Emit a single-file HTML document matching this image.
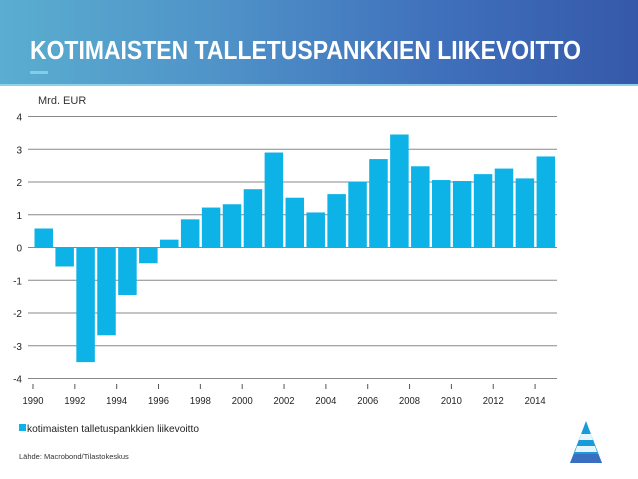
<!DOCTYPE html>
<html><head><meta charset="utf-8"><style>
body{margin:0;width:638px;height:479px;background:#fff;overflow:hidden;font-family:"Liberation Sans",sans-serif;position:relative}
#hdr{position:absolute;left:0;top:0;width:638px;height:85px;background:linear-gradient(90deg,#5aaed0 0%,#4f92c8 35%,#3f6fbb 70%,#3559a8 100%)}
#hdr .sep{position:absolute;left:0;top:84px;width:638px;height:2px;background:#8fd0ea}
#title{position:absolute;left:30px;top:35px;color:#fff;font-weight:bold;font-size:26px;white-space:nowrap;transform:scaleX(0.883);transform-origin:left}
#dash{position:absolute;left:30px;top:71px;width:18px;height:3px;background:#7fd0e6}
svg{position:absolute;left:0;top:0}
</style></head><body>
<div id="hdr"><div class="sep"></div></div>
<div id="title">KOTIMAISTEN TALLETUSPANKKIEN LIIKEVOITTO</div>
<div id="dash"></div>
<svg id="chart" width="638" height="479"></svg>
<script>
const years=[1990,1991,1992,1993,1994,1995,1996,1997,1998,1999,2000,2001,2002,2003,2004,2005,2006,2007,2008,2009,2010,2011,2012,2013,2014];
const values=[0.58,-0.58,-3.5,-2.68,-1.45,-0.48,0.24,0.86,1.22,1.32,1.78,2.9,1.52,1.07,1.63,2.0,2.7,3.45,2.48,2.06,2.03,2.24,2.41,2.11,2.78];
const yTicks=[4,3,2,1,0,-1,-2,-3,-4];
const xTicks=[1990,1992,1994,1996,1998,2000,2002,2004,2006,2008,2010,2012,2014];
const NS="http://www.w3.org/2000/svg";
const svg=document.getElementById('chart');
const y=v=>247.5-v*32.75;
const x=yr=>33+(yr-1990)*20.92;
function mk(t,a){const e=document.createElementNS(NS,t);for(const k in a)e.setAttribute(k,a[k]);svg.appendChild(e);return e;}
yTicks.forEach(v=>{
  const l=mk('line',{x1:28,x2:557,y1:y(v),y2:y(v),stroke:'#888','stroke-width':1});
  
  
  const t=mk('text',{x:22,y:y(v)+4,'text-anchor':'end','font-size':10,fill:'#222'});
  t.textContent=v;
  
  
});
years.forEach((yr,i)=>{
  const v=values[i];
  const r=mk('rect',{x:x(yr)+1.5,width:18.5,y:Math.min(y(v),y(0)),height:Math.abs(y(v)-y(0)),fill:'#0db2e6'});
  
  
});
xTicks.forEach(yr=>{
  const l=mk('line',{x1:x(yr),x2:x(yr),y1:384,y2:389,stroke:'#555','stroke-width':1});
  
  
  const t=mk('text',{x:x(yr),y:404,'text-anchor':'middle','font-size':10.5,fill:'#222',textLength:21,lengthAdjust:'spacingAndGlyphs'});
  t.textContent=yr;
  
  
});
const u=mk('text',{x:38,y:104,'font-size':11,fill:'#333'});u.textContent='Mrd. EUR';


const lg=mk('rect',{x:19,y:424,width:7,height:7,fill:'#0db2e6'});


const lt=mk('text',{x:27,y:432,'font-size':10.5,fill:'#222',textLength:172,lengthAdjust:'spacingAndGlyphs'});lt.textContent='kotimaisten talletuspankkien liikevoitto';


const src=mk('text',{x:19,y:459,'font-size':7.5,fill:'#333'});src.textContent='Lähde: Macrobond/Tilastokeskus';


const lg1=mk('polygon',{points:'586,421 570,463 602,463',fill:'#1a9ad8'});


mk('polygon',{points:'581,434 591,434 593,440 579,440',fill:'#e6f4fb'});
mk('polygon',{points:'577,446 595,446 597,452 575,452',fill:'#e6f4fb'});
mk('polygon',{points:'574,454 598,454 602,463 570,463',fill:'#3a6fc0'});
</script>
</body></html>
